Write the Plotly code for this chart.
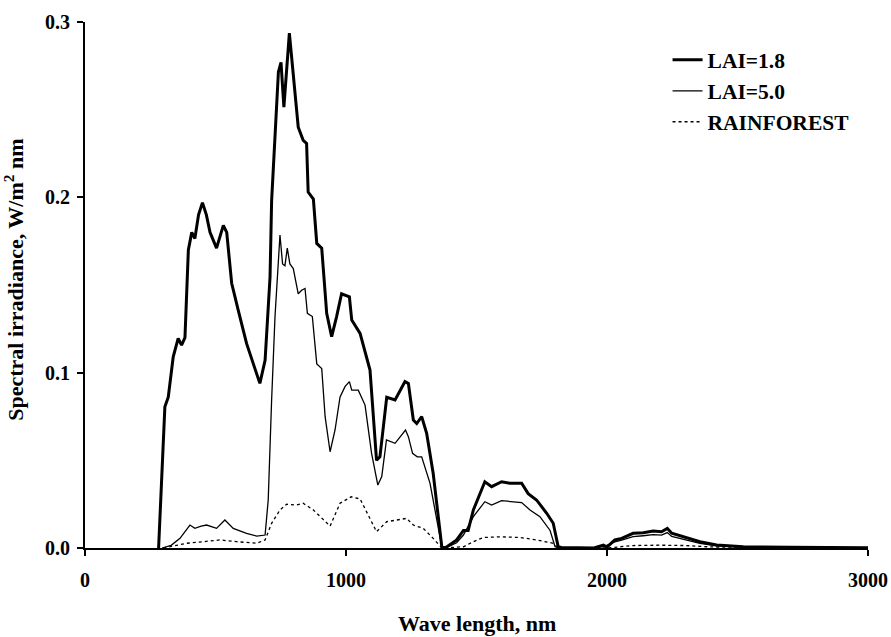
import plotly.graph_objects as go

# LAI = 1.8 (thick line)
x_lai18 = [282, 295, 306, 319, 338, 357, 370, 383, 396, 409, 421, 435, 450, 465, 479, 504, 530, 543,
           562, 587, 619, 645, 670, 690, 709, 715, 728, 734, 741, 751, 762, 783, 798, 817, 836, 849,
           855, 875, 888, 907, 926, 945, 964, 983, 1013, 1022, 1054, 1092, 1117, 1130, 1156, 1188,
           1226, 1239, 1258, 1271, 1290, 1309, 1334, 1367, 1380, 1424, 1450, 1468, 1488, 1513, 1532,
           1558, 1596, 1628, 1673, 1698, 1730, 1769, 1794, 1813, 1825, 1950, 1986, 2000, 2030, 2056,
           2100, 2139, 2177, 2209, 2231, 2248, 2292, 2356, 2420, 2522, 2700, 3000]
y_lai18 = [0.0, 0.04, 0.0805, 0.086, 0.109, 0.1195, 0.1157, 0.120, 0.170, 0.180, 0.1765, 0.190, 0.197,
           0.190, 0.180, 0.171, 0.184, 0.180, 0.151, 0.1357, 0.1167, 0.105, 0.0939, 0.107, 0.1547,
           0.198, 0.2325, 0.2535, 0.2715, 0.277, 0.2515, 0.2937, 0.2687, 0.240, 0.2325, 0.2307,
           0.203, 0.199, 0.1737, 0.171, 0.1338, 0.1205, 0.132, 0.145, 0.1433, 0.130, 0.1224, 0.1015,
           0.050, 0.052, 0.086, 0.0844, 0.0949, 0.0939, 0.073, 0.071, 0.0749, 0.0654, 0.0426, 0.0007,
           0.0, 0.0046, 0.010, 0.010, 0.0217, 0.031, 0.0378, 0.035, 0.0378, 0.0369, 0.0369, 0.031,
           0.0274, 0.0198, 0.0141, 0.0007, 0.0003, 0.0, 0.0017, 0.0005, 0.0046, 0.0055, 0.0084,
           0.0087, 0.0097, 0.0093, 0.0112, 0.0084, 0.0064, 0.0036, 0.0017, 0.0007, 0.0004, 0.0002]

# LAI = 5.0 (thin line)
x_lai50 = [295, 330, 364, 390, 402, 421, 445, 466, 504, 536, 568, 619, 658, 690, 702, 715, 728, 747,
           757, 766, 775, 785, 798, 817, 830, 843, 852, 871, 888, 907, 920, 939, 958, 977, 996, 1013,
           1022, 1047, 1073, 1098, 1122, 1137, 1155, 1188, 1228, 1239, 1255, 1273, 1290, 1322, 1347,
           1367, 1380, 1424, 1450, 1488, 1532, 1558, 1596, 1673, 1705, 1743, 1782, 1801, 1815, 1950,
           1990, 2030, 2056, 2100, 2139, 2177, 2209, 2231, 2248, 2292, 2356, 2420, 2522, 3000]
y_lai50 = [0.0, 0.0015, 0.0055, 0.0103, 0.0131, 0.0112, 0.0125, 0.0131, 0.0112, 0.016, 0.0112, 0.0084,
           0.0068, 0.0074, 0.0274, 0.0844, 0.132, 0.1785, 0.162, 0.161, 0.171, 0.162, 0.1594, 0.145,
           0.147, 0.148, 0.1338, 0.132, 0.105, 0.1024, 0.0749, 0.0549, 0.0673, 0.086, 0.092, 0.0949,
           0.090, 0.090, 0.0815, 0.054, 0.0359, 0.0407, 0.0616, 0.0597, 0.0673, 0.0635, 0.054, 0.052,
           0.052, 0.0369, 0.0179, 0.0007, 0.0, 0.003, 0.0074, 0.0179, 0.0264, 0.0245, 0.027, 0.0259,
           0.0217, 0.0179, 0.010, 0.0007, 0.0002, 0.0, 0.001, 0.0035, 0.0045, 0.0065, 0.007, 0.0076,
           0.0074, 0.0088, 0.0066, 0.005, 0.0027, 0.0012, 0.0005, 0.0001]

# RAINFOREST (dotted line)
x_rain = [300, 326, 390, 453, 517, 581, 658, 690, 715, 747, 773, 811, 836, 875, 939, 977, 1020, 1054,
          1088, 1117, 1156, 1194, 1232, 1258, 1296, 1334, 1367, 1450, 1488, 1526, 1590, 1667, 1730,
          1794, 1813, 2000, 2050, 2100, 2200, 2300, 2400, 3000]
y_rain = [0.0, 0.0007, 0.0027, 0.0036, 0.0046, 0.0036, 0.0027, 0.0046, 0.0141, 0.0217, 0.025, 0.0245,
          0.0255, 0.0217, 0.0125, 0.0255, 0.0292, 0.0280, 0.0179, 0.0093, 0.015, 0.016, 0.0169, 0.0131,
          0.0112, 0.0055, 0.0, 0.0007, 0.0036, 0.006, 0.0064, 0.006, 0.0046, 0.0027, 0.0, 0.0, 0.0008,
          0.0014, 0.0016, 0.0014, 0.0006, 0.0]

x_ticks = [0, 1000, 2000, 3000]
y_ticks = [0.0, 0.1, 0.2, 0.3]

FONT = "Liberation Serif, Times New Roman, serif"

fig = go.Figure()
fig.add_trace(go.Scatter(x=x_lai18, y=y_lai18, mode="lines", name="LAI=1.8",
                         line=dict(color="black", width=3)))
fig.add_trace(go.Scatter(x=x_lai50, y=y_lai50, mode="lines", name="LAI=5.0",
                         line=dict(color="black", width=1.3)))
fig.add_trace(go.Scatter(x=x_rain, y=y_rain, mode="lines", name="RAINFOREST",
                         line=dict(color="black", width=1.3, dash="dot")))

fig.update_layout(
    width=891, height=637,
    margin=dict(l=85, r=23, t=22, b=89),
    paper_bgcolor="white", plot_bgcolor="white",
    font=dict(family=FONT, color="black", size=20, weight="bold"),
    showlegend=True,
    legend=dict(x=0.744, y=0.967, xanchor="left", yanchor="top",
                font=dict(family=FONT, size=21.5, color="black", weight="bold"),
                bgcolor="rgba(0,0,0,0)", borderwidth=0, tracegroupgap=0),
    xaxis=dict(range=[0, 3000], tickvals=x_ticks, ticktext=[str(v) for v in x_ticks],
               showgrid=False, zeroline=False, showline=True, linecolor="black", linewidth=2,
               ticks="outside", ticklen=6, tickwidth=2, tickcolor="black",
               tickfont=dict(family=FONT, size=20, weight="bold"),
               ticklabelstandoff=7, automargin=False),
    yaxis=dict(range=[0, 0.3], tickvals=y_ticks, ticktext=["%.1f" % v for v in y_ticks],
               showgrid=False, zeroline=False, showline=True, linecolor="black", linewidth=2,
               ticks="outside", ticklen=6, tickwidth=2, tickcolor="black",
               tickfont=dict(family=FONT, size=20, weight="bold"),
               ticklabelstandoff=3, automargin=False),
    annotations=[
        dict(text="Wave length, nm", xref="paper", yref="paper", x=0.5, y=0,
             xanchor="center", yanchor="middle", yshift=-75, showarrow=False,
             font=dict(family=FONT, size=22, weight="bold", color="black")),
        dict(text="Spectral irradiance, W/m<sup>2</sup> nm", xref="paper", yref="paper",
             x=0, y=0.51, xanchor="center", yanchor="middle", xshift=-71, textangle=-90,
             showarrow=False, font=dict(family=FONT, size=22, weight="bold", color="black")),
    ],
)

fig.write_html("out.html")
